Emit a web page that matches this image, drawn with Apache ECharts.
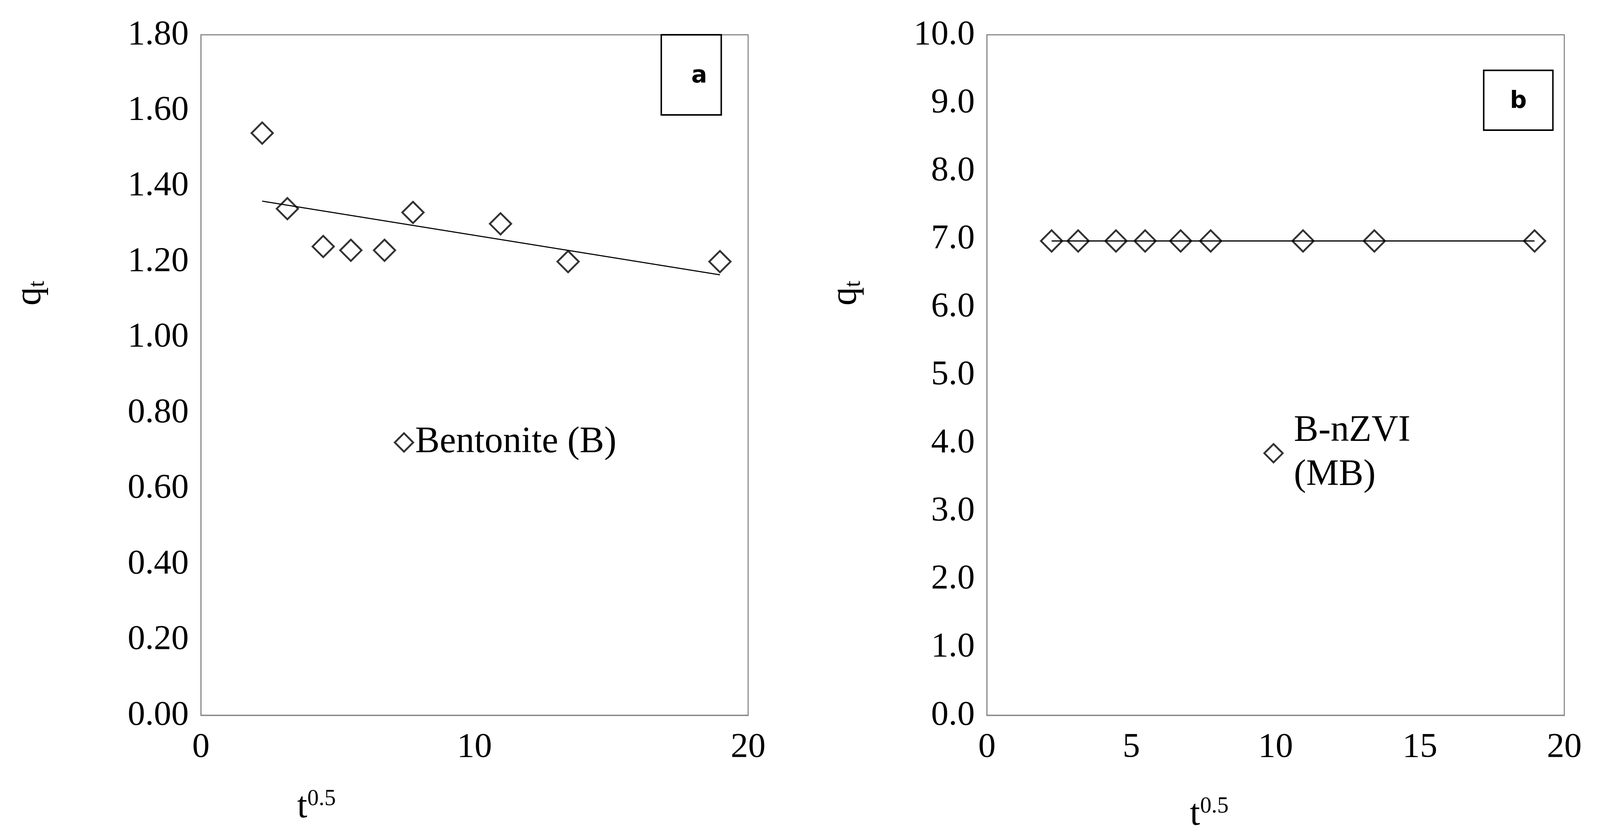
<!DOCTYPE html>
<html>
<head>
<meta charset="utf-8">
<script src="https://cdn.jsdelivr.net/npm/echarts@6/dist/echarts.min.js"></script>
<style>html,body{margin:0;padding:0;background:#fff;overflow:hidden}#chart-container{width:100vw;height:100vh}</style>
</head>
<body>
<div id="chart-container"></div>
<script>
'use strict';
const tValues = [2.24, 3.16, 4.47, 5.48, 6.71, 7.75, 10.95, 13.42, 18.97];
const qtBentonite = [1.54, 1.34, 1.24, 1.23, 1.23, 1.33, 1.30, 1.20, 1.20];
const qtBnZVI = [6.97, 6.97, 6.97, 6.97, 6.97, 6.97, 6.97, 6.97, 6.97];
const fitBentonite = [[2.24, 1.36], [18.97, 1.165]];
const fitBnZVI = [[2.24, 6.97], [18.97, 6.97]];

const serif = '"Liberation Serif", "DejaVu Serif", serif';
const container = document.getElementById('chart-container');
const myChart = echarts.init(container, null, { renderer: 'canvas' });

function zip(xs, ys) {
    return xs.map((x, i) => [x, ys[i]]);
}

function build() {
    // layout was measured on a 4348x2144 page, scale to whatever we got
    const sx = container.clientWidth / 4348;
    const sy = container.clientHeight / 2144;
    const s = Math.min(sx, sy);
    const X = v => v * sx;
    const Y = v => v * sy;

    const axisText = { color: '#000', fontFamily: serif, fontSize: 95 * s };
    const pointStyle = { color: '#fff', borderColor: '#000', borderWidth: 5 * s };
    const rich = {
        m: { fontFamily: serif, fontSize: 100 * s, color: '#000' },
        sub: { fontFamily: serif, fontSize: 62 * s, color: '#000', padding: [40 * s, 0, 0, 0] },
        sup: { fontFamily: serif, fontSize: 62 * s, color: '#000', padding: [0, 0, 45 * s, 0] }
    };

    function xAxis(idx, interval) {
        return {
            gridIndex: idx, type: 'value', min: 0, max: 20, interval: interval,
            axisLine: { show: true, lineStyle: { color: '#888', width: 3 * s } },
            axisTick: { show: false }, splitLine: { show: false },
            axisLabel: Object.assign({ margin: 40 * s }, axisText)
        };
    }
    function yAxis(idx, max, interval, digits) {
        return {
            gridIndex: idx, type: 'value', min: 0, max: max, interval: interval,
            axisLine: { show: true, lineStyle: { color: '#888', width: 3 * s } },
            axisTick: { show: false }, splitLine: { show: false },
            axisLabel: Object.assign({ margin: 33 * s, formatter: v => v.toFixed(digits) }, axisText)
        };
    }
    function label(x, y, text, rot) {
        return {
            type: 'text', x: X(x), y: Y(y), rotation: rot || 0,
            style: { text: text, textAlign: 'center', textVerticalAlign: 'middle', rich: rich }
        };
    }

    return {
        backgroundColor: '#fff',
        animation: false,
        grid: [
            { left: X(546), top: Y(89), width: X(1487), height: Y(1741), show: true, borderColor: '#888', borderWidth: 3 * s },
            { left: X(2682), top: Y(89), width: X(1569), height: Y(1741), show: true, borderColor: '#888', borderWidth: 3 * s }
        ],
        xAxis: [xAxis(0, 10), xAxis(1, 5)],
        yAxis: [yAxis(0, 1.8, 0.2, 2), yAxis(1, 10, 1, 1)],
        legend: [
            {
                left: X(1065), top: Y(1080), itemWidth: 50 * s, itemHeight: 50 * s, itemGap: 20 * s,
                data: [{ name: 'Bentonite (B)', icon: 'diamond', itemStyle: pointStyle }],
                textStyle: { fontFamily: serif, fontSize: 100 * s, color: '#000' }
            },
            {
                left: X(3428), top: Y(985), itemWidth: 50 * s, itemHeight: 50 * s, itemGap: 20 * s,
                data: [{ name: 'B-nZVI\n(MB)', icon: 'diamond', itemStyle: pointStyle }],
                textStyle: { fontFamily: serif, fontSize: 100 * s, color: '#000', lineHeight: 120 * s, padding: [120 * s, 0, 0, 25 * s] }
            }
        ],
        series: [
            { type: 'line', xAxisIndex: 0, yAxisIndex: 0, data: fitBentonite, symbol: 'none', lineStyle: { color: '#000', width: 3 * s }, silent: true },
            { type: 'scatter', name: 'Bentonite (B)', xAxisIndex: 0, yAxisIndex: 0, data: zip(tValues, qtBentonite), symbol: 'diamond', symbolSize: 58 * s, itemStyle: pointStyle },
            { type: 'line', xAxisIndex: 1, yAxisIndex: 1, data: fitBnZVI, symbol: 'none', lineStyle: { color: '#000', width: 3 * s }, silent: true },
            { type: 'scatter', name: 'B-nZVI\n(MB)', xAxisIndex: 1, yAxisIndex: 1, data: zip(tValues, qtBnZVI), symbol: 'diamond', symbolSize: 58 * s, itemStyle: pointStyle }
        ],
        graphic: [
            { type: 'rect', shape: { x: X(1797), y: Y(89), width: X(163), height: Y(205) }, style: { fill: '#fff', stroke: '#000', lineWidth: 4 * s } },
            { type: 'text', x: X(1900), y: Y(225), style: { text: 'a', font: 'bold ' + Math.round(64 * s) + 'px "DejaVu Sans", sans-serif', fill: '#000', textAlign: 'center', textVerticalAlign: 'bottom' } },
            { type: 'rect', shape: { x: X(4032), y: Y(180), width: X(188), height: Y(153) }, style: { fill: '#fff', stroke: '#000', lineWidth: 4 * s } },
            { type: 'text', x: X(4126), y: Y(290), style: { text: 'b', font: 'bold ' + Math.round(64 * s) + 'px "DejaVu Sans", sans-serif', fill: '#000', textAlign: 'center', textVerticalAlign: 'bottom' } },
            label(83, 750, '{m|q}{sub|t}', -Math.PI / 2 + Math.PI),
            label(2300, 750, '{m|q}{sub|t}', -Math.PI / 2 + Math.PI),
            label(860, 2066, '{m|t}{sup|0.5}'),
            label(3286, 2085, '{m|t}{sup|0.5}')
        ]
    };
}

myChart.setOption(build());
window.addEventListener('resize', () => {
    myChart.resize();
    myChart.setOption(build());
});
</script>
</body>
</html>
